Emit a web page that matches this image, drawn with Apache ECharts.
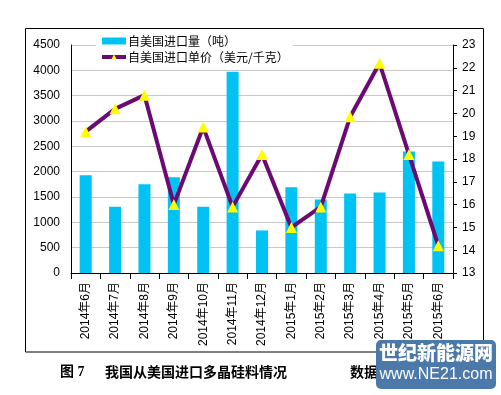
<!DOCTYPE html>
<html><head><meta charset="utf-8">
<script src="https://cdn.jsdelivr.net/npm/echarts@6/dist/echarts.min.js"></script>
<style>html,body{margin:0;padding:0;background:#fff}#c{width:501px;height:395px}</style>
</head><body><div id="c"></div>
<script>
const categories = ['2014年6月','2014年7月','2014年8月','2014年9月','2014年10月','2014年11月','2014年12月','2015年1月','2015年2月','2015年3月','2015年4月','2015年5月','2015年6月'];
const volume = [1930, 1310, 1750, 1890, 1310, 3970, 840, 1690, 1450, 1570, 1590, 2400, 2200];
const price = [19.2, 20.2, 20.8, 16.0, 19.4, 15.9, 18.2, 15.0, 15.9, 19.85, 22.2, 18.2, 14.2];
const volumeName = '自美国进口量（吨）';
const priceName = '自美国进口单价（美元/千克）';
const captionFig = '图 7';
const captionTitle = '我国从美国进口多晶硅料情况';
const captionSource = '数据来源：海关';

const FONT = "'Liberation Sans','Noto Sans CJK SC',sans-serif";
const chart = echarts.init(document.getElementById('c'), null, {renderer:'canvas'});
chart.setOption({
  animation:false,
  textStyle:{fontFamily:FONT},
  grid:{left:71, right:48, top:45, bottom:122, containLabel:false},
  legend:{
    orient:'vertical', left:96, top:33, itemGap:4, itemWidth:24, itemHeight:7,
    backgroundColor:'#fff', padding:[2,4,2,4],
    textStyle:{fontSize:12, color:'#000', fontFamily:"'Noto Sans CJK SC',sans-serif", padding:[0,0,0,-3]},
    data:[{name:volumeName, icon:'rect'}, {name:priceName, lineStyle:{width:4, color:'#6b0a72'}}]
  },
  xAxis:{
    type:'category', data:categories,
    axisLine:{lineStyle:{color:'#000', width:1}},
    axisTick:{show:true, alignWithLabel:false, length:6, inside:false, lineStyle:{color:'#000'}},
    axisLabel:{rotate:90, fontSize:12, color:'#000', margin:9, interval:0, fontFamily:FONT}
  },
  yAxis:[
    {type:'value', min:0, max:4500, interval:500,
     axisLine:{show:true, lineStyle:{color:'#000'}}, axisTick:{show:false},
     splitLine:{lineStyle:{color:'#c8c8c8', width:1}},
     axisLabel:{fontSize:12, color:'#000', margin:11, formatter:function(v){return String(v);}}},
    {type:'value', min:13, max:23, interval:1, position:'right',
     axisLine:{show:true, lineStyle:{color:'#000'}}, axisTick:{show:true, length:4, lineStyle:{color:'#000'}},
     splitLine:{show:false},
     axisLabel:{fontSize:12, color:'#000', margin:9, formatter:function(v){return String(v);}}}
  ],
  series:[
    {name:volumeName, type:'bar', data:volume, barWidth:12, itemStyle:{color:'#00c3f3'}, yAxisIndex:0},
    {name:priceName, type:'line', data:price, yAxisIndex:1, symbol:'triangle', symbolSize:11,
     lineStyle:{color:'#6b0a72', width:4}, itemStyle:{color:'#ffff00', borderWidth:0}, z:5}
  ],
  graphic:[
    {type:'rect', shape:{x:25.5, y:28.5, width:458, height:323.5}, style:{fill:'none', stroke:'#000', lineWidth:1}, silent:true},
    {type:'text', x:60, y:365, style:{text:captionFig, font:"bold 14px 'Liberation Serif','Noto Sans CJK SC'", fill:'#000'}},
    {type:'text', x:105, y:365, style:{text:captionTitle, font:"bold 14px 'Noto Sans CJK SC'", fill:'#000'}},
    {type:'text', x:350, y:365, style:{text:captionSource, font:"bold 14px 'Noto Sans CJK SC'", fill:'#000'}},
    {type:'rect', z:100, shape:{x:376, y:340, width:120, height:49, r:5}, style:{fill:'#4b79a9'}},
    {type:'text', z:101, x:436, y:343, style:{text:'世纪新能源网', align:'center', font:"900 19px 'Noto Sans CJK SC'", fill:'#fff'}},
    {type:'text', z:101, x:436, y:367, style:{text:'www.NE21.com', align:'center', font:"16px 'Liberation Sans'", fill:'#fff'}}
  ]
});
</script></body></html>
